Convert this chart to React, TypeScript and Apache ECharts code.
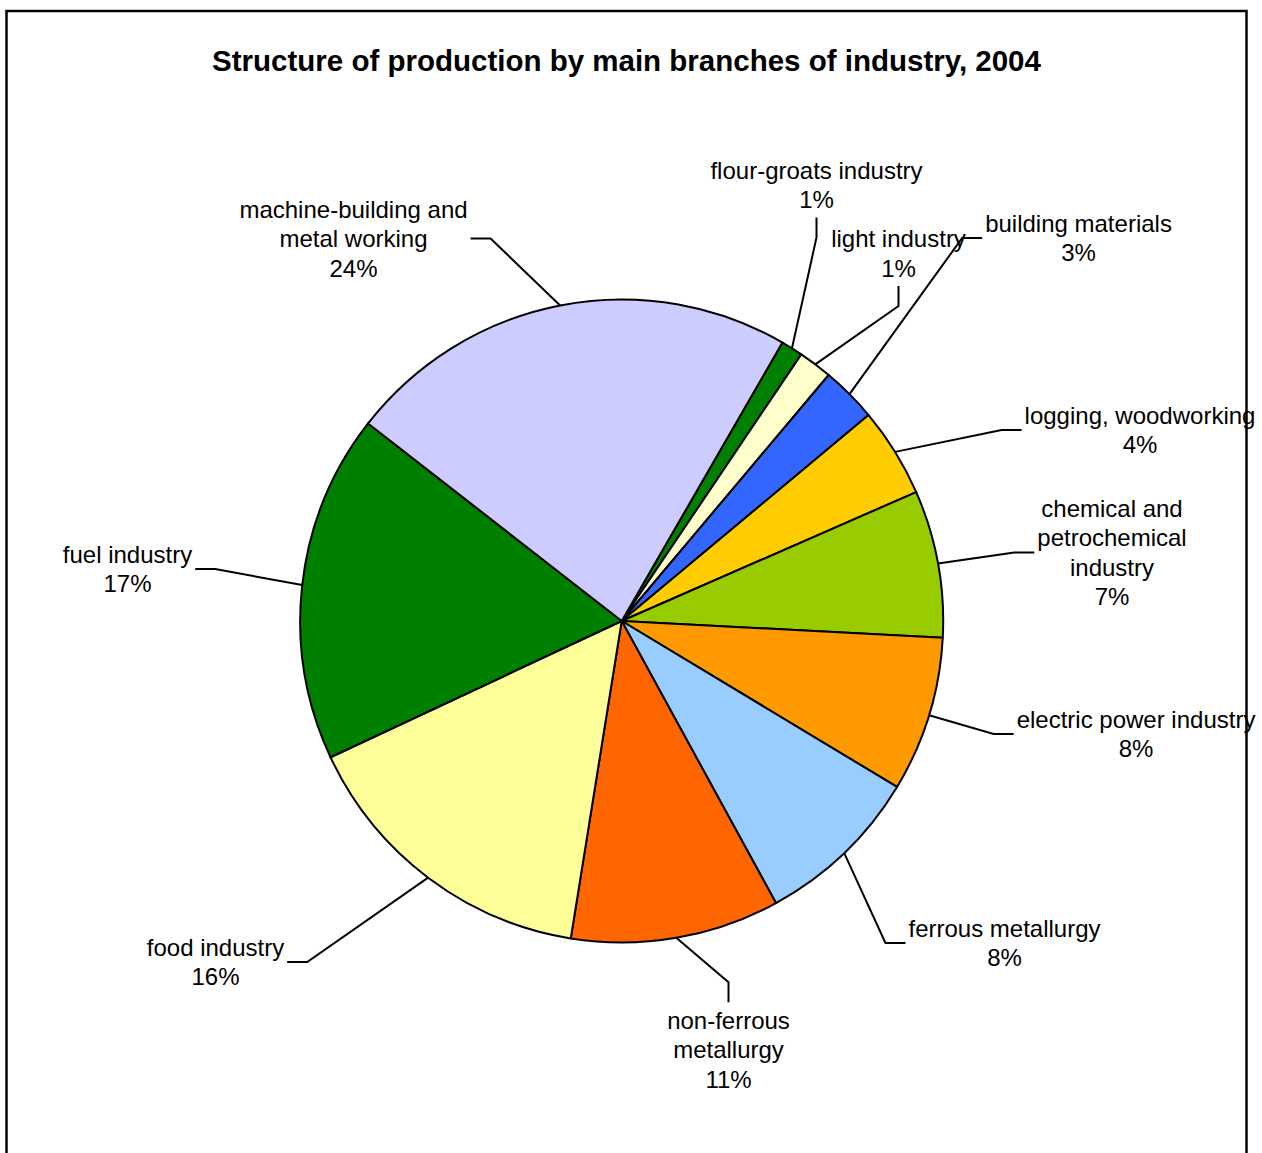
import React, { useEffect, useRef } from 'react';
import * as echarts from 'echarts';

const titleText = 'Structure of production by main branches of industry, 2004';

const categories = [
  'flour-groats industry',
  'light industry',
  'building materials',
  'logging, woodworking',
  'chemical and\npetrochemical\nindustry',
  'electric power industry',
  'ferrous metallurgy',
  'non-ferrous\nmetallurgy',
  'food industry',
  'fuel industry',
  'machine-building and\nmetal working',
];

// shares as drawn (percent of the whole)
const shares = [1.1, 1.7, 2.8, 4.5, 7.4, 7.8, 8.4, 10.5, 15.5, 17.5, 22.8];
// percentages as printed on the labels
const printedPercent = [1, 1, 3, 4, 7, 8, 8, 11, 16, 17, 24];

const sliceColors = [
  '#008000', '#FFFFCC', '#3366FF', '#FFCC00', '#99CC00', '#FF9900',
  '#99CCFF', '#FF6600', '#FFFF99', '#008000', '#CCCCFF',
];

// label placement: centre x, centre y, and where the label sits relative to its leader line end
const labelSpots: [number, number, string][] = [
  [816.5, 185, 'top'],
  [898.5, 253.5, 'top'],
  [1078.5, 238, 'right'],
  [1140, 430, 'right'],
  [1112, 552.5, 'right'],
  [1136, 734, 'right'],
  [1004.5, 943, 'right'],
  [728.5, 1049.5, 'bottom'],
  [215.5, 962, 'left'],
  [127.5, 569, 'left'],
  [353.5, 238.5, 'left'],
];

const FONT = '"Liberation Sans", Arial, Helvetica, sans-serif';

export default function App() {
  const ref = useRef<HTMLDivElement>(null);
  useEffect(() => {
    if (!ref.current) return;
    const chart = echarts.init(ref.current, null, { renderer: 'svg' });
    const data = categories.map((name, i) => ({
      name,
      value: shares[i],
      itemStyle: { color: sliceColors[i] },
    }));
    chart.setOption({
      animation: false,
      backgroundColor: '#ffffff',
      graphic: [
        {
          type: 'rect',
          shape: { x: 6.5, y: 11, width: 1240, height: 1200 },
          style: { fill: 'none', stroke: '#000', lineWidth: 2.5 },
          z: 0,
        },
        {
          type: 'text',
          x: 626.5,
          y: 60,
          style: {
            text: titleText,
            fontFamily: FONT,
            fontWeight: 'bold',
            fontSize: 29.5,
            fill: '#000',
            textAlign: 'center',
            textVerticalAlign: 'middle',
          },
        },
      ],
      series: [
        {
          type: 'pie',
          center: [621.7, 621],
          radius: 321.5,
          startAngle: 60,
          clockwise: true,
          avoidLabelOverlap: false,
          emphasis: { disabled: true },
          data,
          itemStyle: { borderColor: '#000', borderWidth: 2 },
          label: {
            show: true,
            position: 'outside',
            fontFamily: FONT,
            fontSize: 24,
            lineHeight: 29.5,
            color: '#000',
            align: 'center',
            overflow: 'none',
            formatter: (p: any) => `${p.name}\n${printedPercent[p.dataIndex]}%`,
          },
          labelLine: {
            show: true,
            length: 10,
            length2: 10,
            smooth: false,
            lineStyle: { color: '#000', width: 2 },
          },
          labelLayout: (p: any) => {
            const [x, y, side] = labelSpots[p.dataIndex];
            const w = p.labelRect.width;
            const h = p.labelRect.height;
            const gap = 3;
            const seg = 20;
            let end: number[];
            let bend: number[];
            if (side === 'right') {
              end = [x - w / 2 - gap, y];
              bend = [end[0] - seg, y];
            } else if (side === 'left') {
              end = [x + w / 2 + gap, y];
              bend = [end[0] + seg, y];
            } else if (side === 'top') {
              end = [x, y + h / 2 + gap];
              bend = [x, end[1] + seg];
            } else {
              end = [x, y - h / 2 - gap];
              bend = [x, end[1] - seg];
            }
            const start = p.labelLinePoints && p.labelLinePoints[0];
            const out: any = { x, y, align: 'center', verticalAlign: 'middle' };
            if (start) out.labelLinePoints = [start, bend, end];
            return out;
          },
        },
      ],
    });
    return () => chart.dispose();
  }, []);
  return (
    <div
      ref={ref}
      style={{ position: 'absolute', left: 0, top: 0, width: 1258, height: 1153 }}
    />
  );
}
